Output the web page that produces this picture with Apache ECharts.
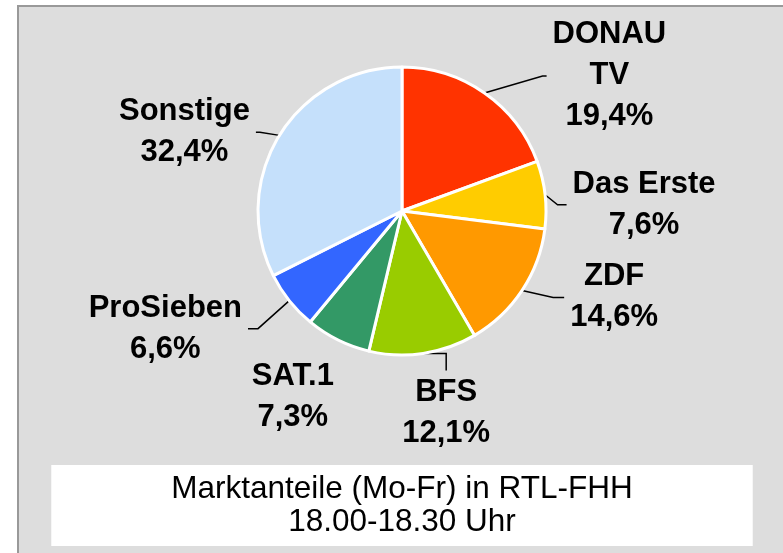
<!DOCTYPE html>
<html>
<head>
<meta charset="utf-8">
<script src="https://cdn.jsdelivr.net/npm/echarts@6/dist/echarts.min.js"></script>
<style>
  html, body { margin: 0; padding: 0; background: #fff; }
  #main { width: 783px; height: 553px; }
</style>
</head>
<body>
<div id="main"></div>
<script>
// Sender und Marktanteile in %
var channels = ['DONAU\nTV', 'Das Erste', 'ZDF', 'BFS', 'SAT.1', 'ProSieben', 'Sonstige'];
var shares = [19.4, 7.6, 14.6, 12.1, 7.3, 6.6, 32.4];
var colors = ['#ff3300', '#ffcc00', '#ff9900', '#99cc00', '#339966', '#3366ff', '#c5e0fb'];
var titleLines = ['Marktanteile (Mo-Fr) in RTL-FHH', '18.00-18.30 Uhr'];

// label placement: offset of label centre from the slice edge point, and how the guide line runs
var labelOffsets = [[125, -17], [99, 10], [92, 7], [23, 60], [-45, 57], [-124, 28], [-95, -3]];
var lineKind = ['right', 'right', 'right', 'below', 'none', 'left', 'left'];
var lineKink = [10, 15, 17, 0, 0, 16, 10];

var font = "'Liberation Sans', Arial, sans-serif";

var myChart = echarts.init(document.getElementById('main'));

var pieData = channels.map(function (name, i) {
  return { name: name, value: shares[i], itemStyle: { color: colors[i] } };
});

var option = {
  animation: false,
  graphic: [{
    type: 'rect',
    z: -10,
    shape: { x: 18, y: 6, width: 800, height: 600 },
    style: { fill: '#dddddd', stroke: '#999999', lineWidth: 2 }
  }],
  title: {
    text: titleLines.join('\n'),
    textAlign: 'center',
    left: 282,
    top: 465,
    padding: [8, 120, 7, 120],
    backgroundColor: '#ffffff',
    textStyle: {
      fontFamily: font,
      fontSize: 31.5,
      fontWeight: 'normal',
      lineHeight: 33,
      color: '#000'
    }
  },
  series: [{
    type: 'pie',
    center: [402, 211],
    radius: 144,
    startAngle: 90,
    clockwise: true,
    avoidLabelOverlap: false,
    itemStyle: { borderColor: '#ffffff', borderWidth: 3 },
    label: {
      show: true,
      position: 'outside',
      formatter: function (p) {
        return '{a|' + p.name + '\n' + p.value.toFixed(1).replace('.', ',') + '%}';
      },
      rich: {
        a: {
          align: 'center',
          fontFamily: font,
          fontSize: 31,
          fontWeight: 'bold',
          lineHeight: 41,
          color: '#000'
        }
      }
    },
    labelLine: {
      show: true,
      length: 10,
      length2: 10,
      lineStyle: { color: '#000', width: 1.5 }
    },
    labelLayout: function (params) {
      var i = params.dataIndex;
      var p0 = params.labelLinePoints ? params.labelLinePoints[0] : [0, 0];
      var cx = p0[0] + labelOffsets[i][0];
      var cy = p0[1] + labelOffsets[i][1];
      var w = params.labelRect.width;
      var h = params.labelRect.height;
      var pts;
      if (lineKind[i] === 'right') {
        var l = cx - w / 2;
        pts = [p0, [l - lineKink[i], cy], [l - 6, cy]];
      } else if (lineKind[i] === 'left') {
        var r = cx + w / 2;
        pts = [p0, [r + lineKink[i], cy], [r + 6, cy]];
      } else if (lineKind[i] === 'below') {
        pts = [p0, [cx, p0[1]], [cx, cy - h / 2 - 7]];
      } else {
        pts = [p0, p0, p0];
      }
      return {
        x: cx,
        y: cy,
        align: 'center',
        verticalAlign: 'middle',
        labelLinePoints: pts
      };
    },
    data: pieData
  }]
};

myChart.setOption(option);
</script>
</body>
</html>
